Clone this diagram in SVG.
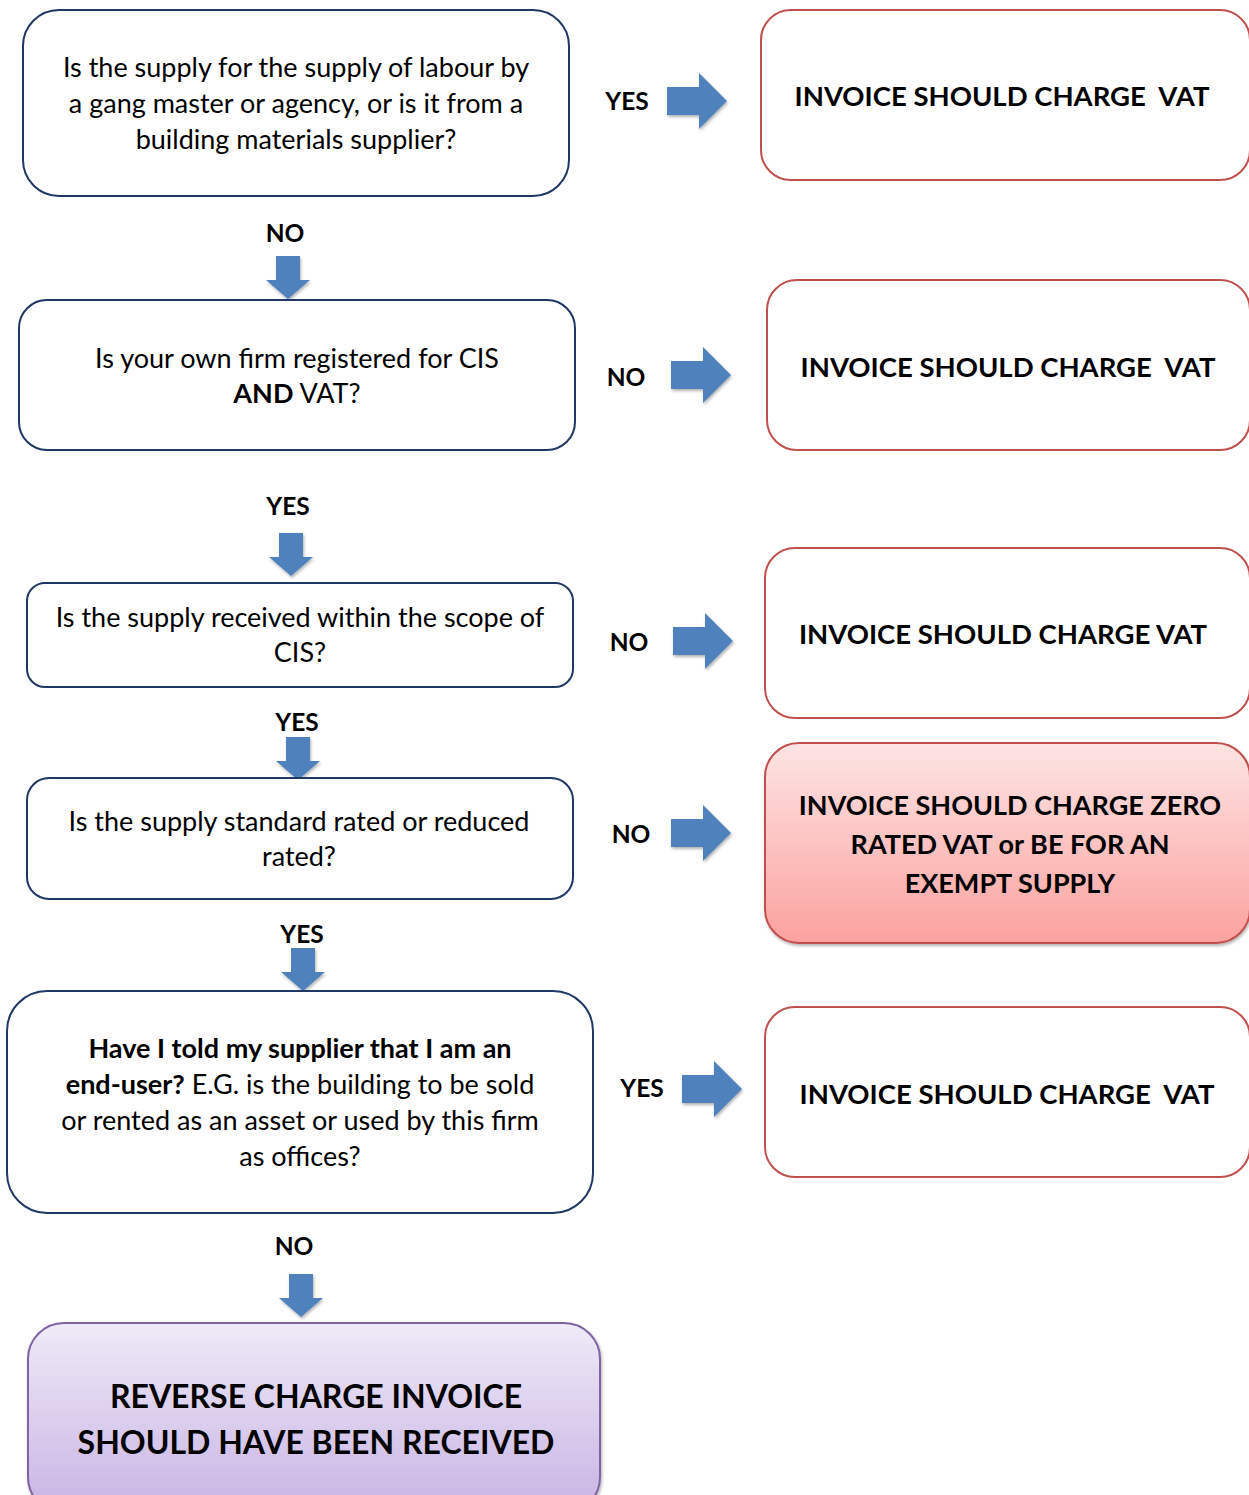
<svg xmlns="http://www.w3.org/2000/svg" width="1249" height="1495" viewBox="0 0 1249 1495">
<style>
.q{fill:#fff;stroke:#1f3864;stroke-width:2}
.r{fill:#fff;stroke:#c0504d;stroke-width:2}
.t{font-family:Lato,"Liberation Sans",sans-serif;font-size:27px;fill:#000;text-anchor:middle}
.b{font-weight:bold}
.rt{font-family:Lato,"Liberation Sans",sans-serif;font-size:27.5px;font-weight:bold;fill:#000;text-anchor:middle;white-space:pre}
.lb{font-family:Lato,"Liberation Sans",sans-serif;font-size:24.5px;font-weight:bold;fill:#000;text-anchor:middle}
.ar{fill:#4f81bd;filter:url(#sh)}
</style>
<defs>
<filter id="sh" x="-20%" y="-20%" width="150%" height="150%"><feDropShadow dx="1" dy="2" stdDeviation="1.5" flood-color="#000" flood-opacity="0.3"/></filter>
<linearGradient id="pink" x1="0" y1="0" x2="0" y2="1"><stop offset="0" stop-color="#fde4e4"/><stop offset="1" stop-color="#fba29f"/></linearGradient>
<linearGradient id="purp" x1="0" y1="0" x2="0" y2="1"><stop offset="0" stop-color="#efeaf7"/><stop offset="1" stop-color="#c8b3e4"/></linearGradient>
<path id="ra" d="M0,-14 H32 V-28 L60,0 L32,28 V14 H0 Z"/>
<path id="da" d="M-12,0 H12 V24 H22 L0,43 L-22,24 H-12 Z"/>
</defs>

<g id="connectors">
<g id="a1"><text class="lb" x="627" y="110">YES</text><use href="#ra" class="ar" x="667" y="101"/></g>
<g id="a2"><text class="lb" x="285" y="242">NO</text><use href="#da" class="ar" x="288" y="256"/></g>
<g id="a3"><text class="lb" x="626" y="386">NO</text><use href="#ra" class="ar" x="671" y="375"/></g>
<g id="a4"><text class="lb" x="288" y="515">YES</text><use href="#da" class="ar" x="291" y="533"/></g>
<g id="a5"><text class="lb" x="629" y="651">NO</text><use href="#ra" class="ar" x="673" y="641"/></g>
<g id="a6"><text class="lb" x="297" y="731">YES</text><use href="#da" class="ar" x="298" y="737"/></g>
<g id="a7"><text class="lb" x="631" y="843">NO</text><use href="#ra" class="ar" x="671" y="833"/></g>
<g id="a8"><text class="lb" x="302" y="943">YES</text><use href="#da" class="ar" x="303" y="948"/></g>
<g id="a9"><text class="lb" x="642" y="1097">YES</text><use href="#ra" class="ar" x="682" y="1089"/></g>
<g id="a10"><text class="lb" x="294" y="1255">NO</text><use href="#da" class="ar" x="301" y="1274"/></g>
</g>

<g id="q1"><rect class="q" x="23" y="10" width="546" height="186" rx="36"/>
<text class="t" x="296" y="77">Is the supply for the supply of labour by</text>
<text class="t" x="296" y="113">a gang master or agency, or is it from a</text>
<text class="t" x="296" y="149">building materials supplier?</text></g>

<g id="r1"><rect class="r" x="761" y="10" width="489" height="170" rx="30"/>
<text class="rt" x="1002" y="106">INVOICE SHOULD CHARGE  VAT</text></g>

<g id="q2"><rect class="q" x="19" y="300" width="556" height="150" rx="28"/>
<text class="t" x="297" y="368">Is your own firm registered for CIS</text>
<text class="t" x="297" y="403"><tspan class="b">AND</tspan> VAT?</text></g>

<g id="r2"><rect class="r" x="767" y="280" width="483" height="170" rx="30"/>
<text class="rt" x="1008" y="377">INVOICE SHOULD CHARGE  VAT</text></g>

<g id="q3"><rect class="q" x="27" y="583" width="546" height="104" rx="18"/>
<text class="t" x="300" y="627">Is the supply received within the scope of</text>
<text class="t" x="300" y="662">CIS?</text></g>

<g id="r3"><rect class="r" x="765" y="548" width="485" height="170" rx="30"/>
<text class="rt" x="1003" y="644">INVOICE SHOULD CHARGE VAT</text></g>

<g id="q4"><rect class="q" x="27" y="778" width="546" height="121" rx="22"/>
<text class="t" x="299" y="831">Is the supply standard rated or reduced</text>
<text class="t" x="299" y="866">rated?</text></g>

<g id="r4"><rect x="765" y="743" width="485" height="200" rx="34" fill="url(#pink)" stroke="#c0504d" stroke-width="2" filter="url(#sh)"/>
<text class="rt" x="1010" y="815" style="font-size:27px">INVOICE SHOULD CHARGE ZERO</text>
<text class="rt" x="1010" y="854" style="font-size:27px">RATED VAT or BE FOR AN</text>
<text class="rt" x="1010" y="893" style="font-size:27px">EXEMPT SUPPLY</text></g>

<g id="q5"><rect class="q" x="7" y="991" width="586" height="222" rx="40"/>
<text class="t" x="300" y="1058"><tspan class="b">Have I told my supplier that I am an</tspan></text>
<text class="t" x="300" y="1094"><tspan class="b">end-user?</tspan> E.G. is the building to be sold</text>
<text class="t" x="300" y="1130">or rented as an asset or used by this firm</text>
<text class="t" x="300" y="1166">as offices?</text></g>

<g id="r5"><rect class="r" x="765" y="1007" width="485" height="170" rx="30"/>
<text class="rt" x="1007" y="1104">INVOICE SHOULD CHARGE  VAT</text></g>

<g id="end"><rect x="28" y="1323" width="572" height="190" rx="36" fill="url(#purp)" stroke="#8064a2" stroke-width="2" filter="url(#sh)"/>
<text class="rt" x="316" y="1408" style="font-size:32px">REVERSE CHARGE INVOICE</text>
<text class="rt" x="316" y="1454" style="font-size:32px">SHOULD HAVE BEEN RECEIVED</text></g>
</svg>
